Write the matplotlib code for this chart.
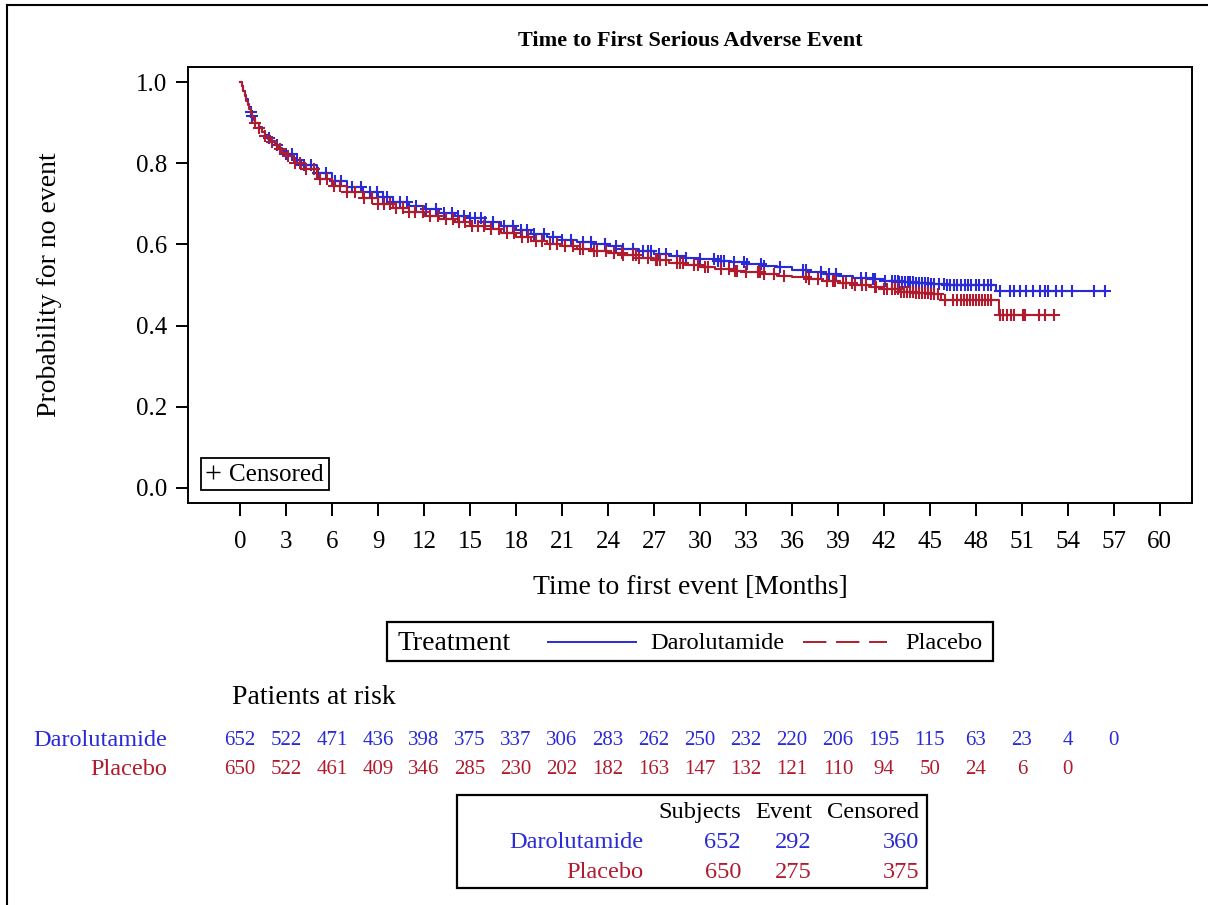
import numpy as np
import matplotlib
matplotlib.use('Agg')
import matplotlib.pyplot as plt
from matplotlib.lines import Line2D
from matplotlib.patches import Rectangle
from matplotlib.transforms import blended_transform_factory

plt.rcParams['font.family'] = ['Liberation Serif', 'DejaVu Serif']

BLUE = '#2A2AD6'
RED = '#B01B2E'

groups = ['Darolutamide', 'Placebo']

# Kaplan-Meier step curves (event times in months, survival after step)
daro_t = [0, 0.1, 0.2, 0.3, 0.4, 0.5, 0.6, 0.7, 0.8, 0.9, 1.0, 1.2, 1.4, 1.6, 1.8,
          2, 2.25, 2.5, 2.75, 3, 3.5, 4,
          5, 6, 7, 8, 9, 10, 11, 12, 13, 14, 15, 16, 17, 18, 19, 20, 21, 22, 23, 24,
          25, 26, 27, 28, 29, 30, 31, 32, 33, 34, 35, 36, 37, 38, 39, 40, 41, 42, 43,
          44, 45, 46, 47, 49.3]
daro_s = [1.000, 0.990, 0.979, 0.968, 0.957, 0.947, 0.937, 0.927, 0.917, 0.908, 0.900,
          0.888, 0.878, 0.870, 0.862, 0.855, 0.846, 0.838, 0.830, 0.822, 0.808, 0.795,
          0.775, 0.757, 0.742, 0.729, 0.716, 0.705, 0.695, 0.686, 0.678, 0.671, 0.665,
          0.656, 0.645, 0.635, 0.626, 0.618, 0.612, 0.606, 0.601, 0.596, 0.589, 0.583,
          0.577, 0.572, 0.567, 0.563, 0.559, 0.556, 0.552, 0.548, 0.544, 0.537, 0.532,
          0.528, 0.522, 0.517, 0.514, 0.511, 0.508, 0.505, 0.503, 0.501, 0.499, 0.485]
daro_end = 56.5

plac_t = [0, 0.1, 0.2, 0.3, 0.4, 0.5, 0.6, 0.7, 0.8, 0.9, 1.0, 1.2, 1.4, 1.6, 1.8,
          2, 2.25, 2.5, 2.75, 3, 3.5, 4,
          5, 6, 7, 8, 9, 10, 11, 12, 13, 14, 15, 16, 17, 18, 19, 20, 21, 22, 23, 24,
          25, 26, 27, 28, 29, 30, 31, 32, 33, 34, 35, 36, 37, 38, 39, 40, 41, 42, 43,
          44, 45, 45.7, 49.5]
plac_s = [1.000, 0.989, 0.977, 0.965, 0.954, 0.944, 0.934, 0.924, 0.915, 0.906, 0.898,
          0.886, 0.876, 0.868, 0.860, 0.853, 0.844, 0.835, 0.826, 0.817, 0.800, 0.785,
          0.760, 0.743, 0.729, 0.714, 0.700, 0.690, 0.681, 0.671, 0.663, 0.655, 0.646,
          0.637, 0.628, 0.619, 0.609, 0.601, 0.595, 0.589, 0.584, 0.579, 0.574, 0.567,
          0.561, 0.555, 0.550, 0.545, 0.540, 0.535, 0.531, 0.527, 0.523, 0.519, 0.514,
          0.509, 0.505, 0.500, 0.495, 0.489, 0.483, 0.480, 0.477, 0.462, 0.425]
plac_end = 53.2

# censoring times (months)
daro_cens = [0.7, 0.8, 1.9, 2.4, 3.0, 3.4, 3.7, 4.2, 4.6, 5.1, 5.6, 6.2, 6.6, 7.3, 7.9,
             8.5, 8.9, 9.3, 9.6, 10.0, 10.4, 10.9, 11.5, 12.1, 12.8, 13.3, 13.8, 14.2,
             14.6, 15.0, 15.3, 15.7, 16.0, 16.5, 17.2, 17.8, 18.3, 18.7, 19.2, 19.8,
             20.4, 21.0, 21.6, 22.4, 22.9, 23.8, 24.5, 25.0, 25.6, 26.3, 26.6, 26.8,
             27.3, 27.8, 28.5, 29.1, 30.0, 30.9, 31.2, 31.4, 31.6, 32.2, 32.9, 33.1,
             33.95, 34.2, 35.2, 36.7, 36.9, 37.9, 38.4, 38.9, 40.5, 40.8, 41.3, 41.4,
             42.1, 42.5, 42.7, 42.9, 43.0, 43.2, 43.4, 43.6, 43.7, 43.9, 44.1, 44.3,
             44.5, 44.7, 44.9, 45.1, 45.3, 45.6, 45.9, 46.1, 46.3, 46.6, 46.8, 47.0,
             47.3, 47.5, 47.7, 48.0, 48.2, 48.5, 48.8, 49.0, 49.6, 50.2, 50.5, 50.9,
             51.3, 51.7, 52.2, 52.5, 52.7, 53.2, 53.6, 54.3, 55.7, 56.4]
plac_cens = [1.0, 1.2, 1.6, 2.1, 2.6, 3.1, 3.6, 3.9, 4.3, 4.8, 5.2, 5.7, 6.1, 6.5, 7.0,
             7.5, 8.1, 8.6, 9.0, 9.4, 9.8, 10.2, 10.6, 11.0, 11.4, 11.9, 12.4, 12.9,
             13.4, 13.9, 14.3, 14.7, 15.1, 15.5, 15.9, 16.4, 16.9, 17.4, 17.9, 18.4,
             18.8, 19.3, 19.7, 20.2, 20.7, 21.2, 21.7, 22.2, 22.4, 23.1, 23.3, 23.9,
             24.4, 24.9, 25.0, 25.6, 25.8, 26.0, 26.6, 27.1, 27.2, 27.4, 27.8, 28.5,
             28.7, 28.9, 29.6, 29.9, 30.3, 30.5, 31.4, 31.9, 32.3, 32.4, 33.0, 33.8,
             33.9, 34.2, 34.8, 35.5, 36.9, 37.1, 37.7, 38.3, 38.7, 38.8, 39.3, 39.5,
             39.9, 40.1, 40.6, 40.8, 41.4, 41.5, 42.0, 42.2, 42.5, 42.7, 42.9, 43.1,
             43.3, 43.5, 43.7, 43.9, 44.1, 44.3, 44.5, 44.7, 44.9, 45.1, 45.3, 45.5,
             46.0, 46.5, 46.8, 47.0, 47.2, 47.4, 47.6, 47.8, 48.0, 48.2, 48.4, 48.6,
             48.8, 49.0, 49.6, 49.8, 50.0, 50.3, 50.5, 51.1, 51.2, 52.1, 52.5, 53.1]

# patients at risk
risk_times = list(range(0, 61, 3))
daro_risk = [652, 522, 471, 436, 398, 375, 337, 306, 283, 262, 250, 232, 220, 206, 195,
             115, 63, 23, 4, 0]
plac_risk = [650, 522, 461, 409, 346, 285, 230, 202, 182, 163, 147, 132, 121, 110, 94,
             50, 24, 6, 0]

# summary table
summary_cols = ['Subjects', 'Event', 'Censored']
daro_summary = [652, 292, 360]
plac_summary = [650, 275, 375]

W, H = 1208, 905
fig = plt.figure(figsize=(W / 100, H / 100), dpi=100)


def fx(px):
    return px / W


def fy(py):
    return 1 - py / H


ax = fig.add_axes([fx(188), fy(503), fx(1192) - fx(188), fy(67) - fy(503)])

curves = [(daro_t, daro_s, daro_end, daro_cens, BLUE),
          (plac_t, plac_s, plac_end, plac_cens, RED)]
for t, s, end, cens, col in curves:
    t = np.array(t)
    s = np.array(s)
    ax.step(np.append(t, end), np.append(s, s[-1]), where='post', color=col, lw=1.5)
    c = np.array(cens)
    cy = s[np.searchsorted(t, c, side='right') - 1]
    ax.plot(c, cy, ls='none', marker='+', ms=9, mew=1.5, color=col)

ax.set_xlim(-3.4, 62.1)
ax.set_ylim(-0.037, 1.037)
ax.set_xticks(risk_times)
ax.set_yticks(np.arange(0, 1.01, 0.2))
ax.set_yticklabels([f'{v:.1f}' for v in np.arange(0, 1.01, 0.2)])
ax.tick_params(direction='out', length=9, width=1.4, labelsize=18)
ax.tick_params(axis='x', pad=11)
ax.tick_params(axis='y', pad=6)
for sp in ax.spines.values():
    sp.set_linewidth(1.4)
ax.set_xlabel('Time to first event [Months]', fontsize=20)
ax.set_ylabel('Probability for no event', fontsize=20)
ax.xaxis.set_label_coords(0.5, (503 - 588) / 436, transform=ax.transAxes)
ax.yaxis.set_label_coords((50 - 188) / 1004, 0.5, transform=ax.transAxes)
ax.xaxis.label.set_va('center')
ax.yaxis.label.set_va('center')
ax.set_title('Time to First Serious Adverse Event', fontsize=16,
             fontweight='bold', pad=15)

cens_handle = Line2D([], [], ls='none', marker='+', ms=10, mew=1.0, color='black')
leg = ax.legend([cens_handle], ['Censored'], loc='lower left', fontsize=18,
                handlelength=0.6, handletextpad=0.35, borderpad=0.2,
                fancybox=False, edgecolor='black', framealpha=1,
                borderaxespad=0.5)
leg.get_frame().set_linewidth(1.3)

# treatment legend box
fig.add_artist(Rectangle((fx(387), fy(661)), fx(993) - fx(387), fy(622) - fy(661),
                         transform=fig.transFigure, fill=False, lw=1.6, ec='black'))
fig.text(fx(398), fy(643), 'Treatment', fontsize=20, va='center', ha='left')
fig.add_artist(Line2D([fx(548), fx(636)], [fy(642), fy(642)], transform=fig.transFigure,
                      color=BLUE, lw=1.4))
fig.text(fx(650), fy(643), groups[0], fontsize=17.6, va='center', ha='left')
fig.add_artist(Line2D([fx(803), fx(887)], [fy(642), fy(642)], transform=fig.transFigure,
                      color=RED, lw=1.4, dashes=(12, 5)))
fig.text(fx(905), fy(643), groups[1], fontsize=17.6, va='center', ha='left')

# patients at risk table
fig.text(fx(232), fy(697), 'Patients at risk', fontsize=20, va='center', ha='left')
tr = blended_transform_factory(ax.transData, fig.transFigure)
for row_y, name, vals, col in [(740, groups[0], daro_risk, BLUE),
                               (769, groups[1], plac_risk, RED)]:
    fig.text(fx(167), fy(row_y), name, fontsize=17.5, color=col, va='center', ha='right')
    for x, v in zip(risk_times, vals):
        ax.text(x, fy(row_y), str(v), transform=tr, fontsize=15, color=col,
                va='center', ha='center')

# summary box
fig.add_artist(Rectangle((fx(457), fy(888)), fx(927) - fx(457), fy(795) - fy(888),
                         transform=fig.transFigure, fill=False, lw=1.6, ec='black'))
col_right = [741, 812, 919]
for xr, lab in zip(col_right, summary_cols):
    fig.text(fx(xr), fy(812), lab, fontsize=17.6, va='center', ha='right')
for row_y, name, vals, col in [(842, groups[0], daro_summary, BLUE),
                               (872, groups[1], plac_summary, RED)]:
    fig.text(fx(643), fy(row_y), name, fontsize=17.6, color=col, va='center', ha='right')
    for xr, v in zip(col_right, vals):
        fig.text(fx(xr), fy(row_y), str(v), fontsize=17.6, color=col,
                 va='center', ha='right')

# outer frame (top and left edges)
fig.add_artist(Line2D([fx(7), 1.0], [fy(5), fy(5)], transform=fig.transFigure,
                      color='black', lw=1.5))
fig.add_artist(Line2D([fx(7), fx(7)], [fy(5), 0.0], transform=fig.transFigure,
                      color='black', lw=1.5))

fig.savefig('out.png', dpi=100)
